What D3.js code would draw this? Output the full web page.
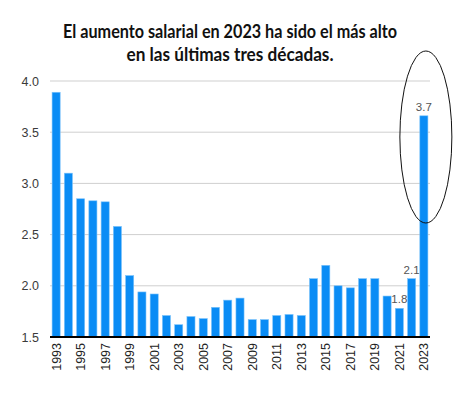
<!DOCTYPE html>
<html>
<head>
<meta charset="utf-8">
<script src="https://cdn.jsdelivr.net/npm/d3@7"></script>
<style>
    body { margin: 0; background: #fff; }
</style>
</head>
<body>
<svg id="chart" width="467" height="395"></svg>
<script>
/*globals d3*/

var years = d3.range(1993, 2024);
var values = [3.89, 3.10, 2.85, 2.83, 2.82, 2.58, 2.10, 1.94, 1.92, 1.71,
    1.62, 1.70, 1.68, 1.79, 1.86, 1.88, 1.67, 1.67, 1.71, 1.72,
    1.71, 2.07, 2.20, 2.00, 1.98, 2.07, 2.07, 1.90, 1.78, 2.07, 3.66];
var yTicks = [1.5, 2.0, 2.5, 3.0, 3.5, 4.0];
var labelled = [2021, 2022, 2023];
var titleLines = ["El aumento salarial en 2023 ha sido el más alto",
    "en las últimas tres décadas."];
var titleWidths = [334, 207];

(function () {
    "use strict";

    var svg = d3.select("#chart"),
        left = 50,
        right = 430,
        top = 81,
        bottom = 337,
        x,
        y,
        data;

    data = years.map(function (yr, i) { return {year: yr, value: values[i]}; });

    x = d3.scaleBand()
        .domain(years)
        .range([left, right])
        .paddingInner(0.34)
        .paddingOuter(0.17);

    y = d3.scaleLinear()
        .domain([1.5, 4.0])
        .range([bottom, top]);

    // title (squeezed to the width of the original condensed face)
    svg.append("g").selectAll("text")
        .data(titleLines)
        .enter().append("text")
        .attr("x", 230)
        .attr("y", function (d, i) { return 38 + i * 23; })
        .attr("text-anchor", "middle")
        .attr("textLength", function (d, i) { return titleWidths[i]; })
        .attr("lengthAdjust", "spacingAndGlyphs")
        .style("font-family", "Lato, sans-serif")
        .style("font-weight", 700)
        .style("font-size", "19px")
        .style("fill", "#111")
        .text(function (d) { return d; });

    // gridlines
    svg.append("g").selectAll("line")
        .data(yTicks.slice(1))
        .enter().append("line")
        .attr("x1", left)
        .attr("x2", right)
        .attr("y1", function (d) { return y(d); })
        .attr("y2", function (d) { return y(d); })
        .style("stroke", "#cfcfcf")
        .style("stroke-width", 1);

    // y labels
    svg.append("g").selectAll("text")
        .data(yTicks)
        .enter().append("text")
        .attr("x", 39)
        .attr("y", function (d) { return y(d) + 4.5; })
        .attr("text-anchor", "end")
        .style("font-family", "Arial, 'Liberation Sans', sans-serif")
        .style("font-size", "12.5px")
        .style("fill", "#3a3a3a")
        .text(function (d) { return d3.format(".1f")(d); });

    // bars
    svg.append("g").selectAll("rect")
        .data(data)
        .enter().append("rect")
        .attr("x", function (d) { return x(d.year); })
        .attr("width", x.bandwidth())
        .attr("y", function (d) { return y(d.value); })
        .attr("height", function (d) { return y(1.5) - y(d.value); })
        .style("fill", "#0a8cf5")
        .style("stroke", "#7cc3fb")
        .style("stroke-width", 0.6);

    // value labels
    svg.append("g").selectAll("text")
        .data(data.filter(function (d) { return labelled.indexOf(d.year) >= 0; }))
        .enter().append("text")
        .attr("x", function (d) { return x(d.year) + x.bandwidth() / 2; })
        .attr("y", function (d) { return y(d.value) - 5; })
        .attr("text-anchor", "middle")
        .style("font-family", "Arial, 'Liberation Sans', sans-serif")
        .style("font-size", "11.5px")
        .style("fill", "#555")
        .text(function (d) { return d3.format(".1f")(d.value); });

    // x axis line
    svg.append("line")
        .attr("x1", left)
        .attr("x2", right)
        .attr("y1", bottom)
        .attr("y2", bottom)
        .style("stroke", "#000")
        .style("stroke-width", 2);

    // x labels, every other year
    svg.append("g").selectAll("text")
        .data(years.filter(function (d) { return (d - 1993) % 2 === 0; }))
        .enter().append("text")
        .attr("transform", function (d) {
            return "translate(" + (x(d) + x.bandwidth() / 2 + 4.5) + "," + (bottom + 6) + ") rotate(-90)";
        })
        .attr("text-anchor", "end")
        .style("font-family", "Arial, 'Liberation Sans', sans-serif")
        .style("font-size", "12.5px")
        .style("fill", "#222")
        .text(function (d) { return d; });

    // ellipse highlighting 2023
    svg.append("ellipse")
        .attr("cx", x(2023) + x.bandwidth() / 2 + 2)
        .attr("cy", 137)
        .attr("rx", 26)
        .attr("ry", 86)
        .style("fill", "none")
        .style("stroke", "#111")
        .style("stroke-width", 1);
}());
</script>
</body>
</html>
